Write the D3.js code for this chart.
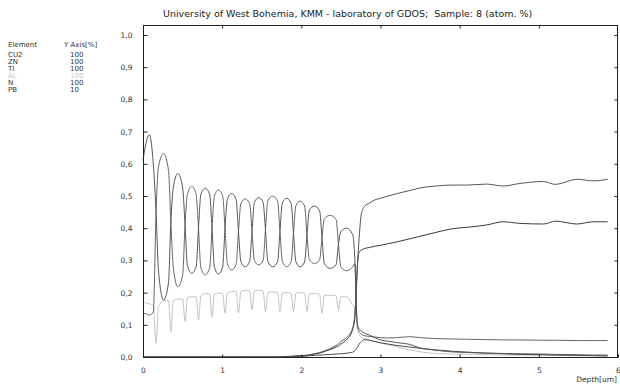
<!DOCTYPE html>
<html><head><meta charset="utf-8">
<script src="https://cdn.jsdelivr.net/npm/d3@7"></script>
<style>
body{margin:0;background:#fff}
svg{display:block;font-family:"DejaVu Sans",Verdana,sans-serif}
</style>
</head><body>
<svg id="chart" width="620" height="387"></svg>
<script>
// ---- data ----
const depth = [
  0, 0.03, 0.08, 0.13,
  0.165, 0.195, 0.26, 0.322,
  0.352, 0.382, 0.44, 0.501,
  0.531, 0.561, 0.616, 0.671,
  0.701, 0.731, 0.786, 0.842,
  0.872, 0.902, 0.954, 1.006,
  1.036, 1.066, 1.121, 1.176,
  1.206, 1.236, 1.291, 1.347,
  1.377, 1.407, 1.462, 1.517,
  1.547, 1.577, 1.638, 1.700,
  1.730, 1.760, 1.815, 1.871,
  1.901, 1.931, 1.986, 2.041,
  2.071, 2.101, 2.166, 2.231,
  2.261, 2.291, 2.365, 2.439,
  2.469, 2.499, 2.573, 2.648,
  2.678, 2.695, 2.71, 2.73, 2.76, 2.80, 2.86, 2.93, 3.0,
  3.1, 3.2, 3.37, 3.5, 3.7, 3.9, 4.1, 4.34, 4.55, 4.76, 5.06, 5.21, 5.48, 5.69, 5.87
];
const cu2 = [
  0.61, 0.655, 0.69, 0.60,
  0.45, 0.27, 0.177, 0.23,
  0.42, 0.525, 0.57, 0.525,
  0.41, 0.285, 0.26, 0.28,
  0.40, 0.505, 0.524, 0.505,
  0.40, 0.28, 0.258, 0.28,
  0.40, 0.49, 0.508, 0.489,
  0.39, 0.297, 0.28, 0.297,
  0.39, 0.48, 0.495, 0.48,
  0.395, 0.297, 0.28, 0.296,
  0.39, 0.478, 0.493, 0.477,
  0.385, 0.296, 0.28, 0.295,
  0.38, 0.456, 0.469, 0.454,
  0.37, 0.29, 0.275, 0.287,
  0.35, 0.39, 0.40, 0.38,
  0.29, 0.16, 0.10, 0.088, 0.08, 0.074, 0.068, 0.06, 0.053,
  0.049, 0.045, 0.039, 0.028, 0.021, 0.016, 0.014, 0.012, 0.011, 0.010, 0.009, 0.008, 0.007, 0.006, 0.006
];
const zn = [
  0.135, 0.135, 0.13, 0.14,
  0.45, 0.59, 0.632, 0.58,
  0.42, 0.28, 0.218, 0.255,
  0.41, 0.505, 0.53, 0.505,
  0.40, 0.277, 0.255, 0.277,
  0.40, 0.50, 0.519, 0.50,
  0.40, 0.29, 0.27, 0.288,
  0.39, 0.476, 0.491, 0.476,
  0.39, 0.30, 0.286, 0.30,
  0.395, 0.485, 0.50, 0.484,
  0.39, 0.297, 0.28, 0.296,
  0.385, 0.47, 0.484, 0.469,
  0.38, 0.303, 0.29, 0.302,
  0.37, 0.43, 0.44, 0.427,
  0.35, 0.28, 0.268, 0.28,
  0.29, 0.15, 0.095, 0.08, 0.07, 0.066, 0.064, 0.062, 0.06,
  0.059, 0.06, 0.063, 0.06, 0.057, 0.056, 0.055, 0.054, 0.053, 0.053, 0.052, 0.052, 0.051, 0.051, 0.051
];
const ti = [
  0, 0, 0, 0,  0, 0, 0, 0,  0, 0, 0, 0,  0, 0, 0, 0,  0, 0, 0, 0,
  0, 0, 0, 0,  0, 0, 0, 0,  0, 0, 0, 0,  0, 0, 0, 0,  0, 0, 0, 0,
  0.001, 0.001, 0.002, 0.002,
  0.003, 0.003, 0.004, 0.005,
  0.006, 0.007, 0.010, 0.014,
  0.016, 0.019, 0.026, 0.036,
  0.040, 0.048, 0.060, 0.090,
  0.14, 0.22, 0.29, 0.37, 0.446, 0.468, 0.478, 0.488, 0.493,
  0.50, 0.507, 0.517, 0.525, 0.531, 0.534, 0.534, 0.537, 0.531, 0.539, 0.545, 0.536, 0.552, 0.547, 0.552
];
const al = [
  0.172, 0.168, 0.165, 0.16,
  0.043, 0.156, 0.175, 0.175,
  0.079, 0.175, 0.18, 0.18,
  0.11, 0.184, 0.187, 0.187,
  0.115, 0.19, 0.197, 0.197,
  0.125, 0.195, 0.198, 0.198,
  0.136, 0.20, 0.203, 0.203,
  0.136, 0.203, 0.207, 0.207,
  0.146, 0.205, 0.207, 0.205,
  0.141, 0.20, 0.202, 0.20,
  0.141, 0.198, 0.20, 0.198,
  0.141, 0.198, 0.20, 0.198,
  0.141, 0.196, 0.197, 0.195,
  0.136, 0.192, 0.192, 0.19,
  0.146, 0.187, 0.187, 0.16,
  0.15, 0.11, 0.08, 0.07, 0.06, 0.056, 0.052, 0.048, 0.044,
  0.038, 0.032, 0.022, 0.016, 0.011, 0.009, 0.008, 0.007, 0.006, 0.006, 0.005, 0.005, 0.004, 0.004, 0.004
];
const n = [
  0, 0, 0, 0,  0, 0, 0, 0,  0, 0, 0, 0,  0, 0, 0, 0,  0, 0, 0, 0,
  0, 0, 0, 0,  0, 0, 0, 0,  0, 0, 0, 0,  0, 0, 0, 0,  0, 0, 0, 0,
  0.001, 0.001, 0.001, 0.002,
  0.002, 0.003, 0.004, 0.004,
  0.005, 0.006, 0.009, 0.012,
  0.014, 0.017, 0.023, 0.031,
  0.034, 0.040, 0.054, 0.085,
  0.13, 0.21, 0.29, 0.325, 0.332, 0.337, 0.34, 0.344, 0.347,
  0.352, 0.357, 0.367, 0.375, 0.387, 0.398, 0.403, 0.41, 0.42, 0.415, 0.413, 0.422, 0.413, 0.42, 0.42
];
const pb = [
  0, 0, 0, 0,  0, 0, 0, 0,  0, 0, 0, 0,  0, 0, 0, 0,  0, 0, 0, 0,
  0, 0, 0, 0,  0, 0, 0, 0,  0, 0, 0, 0,  0, 0, 0, 0,  0, 0, 0, 0,
  0, 0, 0, 0,
  0.001, 0.001, 0.002, 0.002,
  0.003, 0.004, 0.005, 0.006,
  0.006, 0.007, 0.008, 0.009,
  0.010, 0.010, 0.012, 0.015,
  0.02, 0.025, 0.03, 0.04, 0.048, 0.054, 0.052, 0.048, 0.044,
  0.040, 0.036, 0.031, 0.027, 0.022, 0.018, 0.015, 0.012, 0.010, 0.008, 0.007, 0.006, 0.005, 0.004, 0.003
];
const elements = ["CU2", "ZN", "TI", "AL", "N", "PB"];
const axisScale = ["100", "100", "100", "100", "100", "10"];
const seriesValues = [cu2, zn, ti, al, n, pb];
const xTicks = [0, 1, 2, 3, 4, 5, 6];
const yTicks = [0, 0.1, 0.2, 0.3, 0.4, 0.5, 0.6, 0.7, 0.8, 0.9, 1.0];
const yTickLabels = ["0,0","0,1","0,2","0,3","0,4","0,5","0,6","0,7","0,8","0,9","1,0"];
const titleText = "University of West Bohemia, KMM - laboratory of GDOS;  Sample: 8 (atom. %)";
const xTitle = "Depth[um]";

// ---- styling ----
const colors = ["#555", "#666", "#555", "#c4c4c4", "#3a3a3a", "#4a4a4a"];
const legendColors = ["#333", "#333", "#333", "#c4c4c4", "#333", "#333"];
const FONT = '"DejaVu Sans", Verdana, sans-serif';

const svg = d3.select("#chart");
const L = 143, R = 618, T = 25, B = 357;
const x = d3.scaleLinear().domain([0, 6]).range([L, R]);
const y = d3.scaleLinear().domain([0, 1]).range([B, 35]);

// series lines
const line = d3.line()
  .x((d, i) => x(depth[i]))
  .y(d => y(d))
  .curve(d3.curveMonotoneX);
const order = [3, 5, 1, 0, 4, 2];
svg.append("g").selectAll("path").data(order).join("path")
  .attr("d", k => line(seriesValues[k]))
  .attr("fill", "none")
  .attr("stroke", k => colors[k])
  .attr("stroke-width", 1);

// frame
svg.append("rect").attr("x", L + 0.5).attr("y", T + 0.5)
  .attr("width", R - L - 1).attr("height", B - T)
  .attr("fill", "none").attr("stroke", "#222").attr("stroke-width", 1);

// axes
const fmtY = d => yTickLabels[yTicks.indexOf(d)];
const gx = svg.append("g").attr("transform", `translate(0,${B + 0.5})`)
  .call(d3.axisBottom(x).tickValues(xTicks).tickSizeInner(-3).tickSizeOuter(0).tickPadding(10).tickFormat(d3.format("d")));
const gxTop = svg.append("g").attr("transform", `translate(0,${T + 0.5})`)
  .call(d3.axisTop(x).tickValues(xTicks.slice(1, -1)).tickSizeInner(-3).tickSizeOuter(0).tickFormat(""));
const gy = svg.append("g").attr("transform", `translate(${L + 0.5},0)`)
  .call(d3.axisLeft(y).tickValues(yTicks).tickSizeInner(-4).tickSizeOuter(0).tickPadding(11).tickFormat(fmtY));
const gyR = svg.append("g").attr("transform", `translate(${R - 0.5},0)`)
  .call(d3.axisRight(y).tickValues(yTicks.slice(1)).tickSizeInner(-3).tickSizeOuter(0).tickFormat(""));
[gx, gxTop, gy, gyR].forEach(g => {
  g.select(".domain").remove();
  g.selectAll("line").attr("stroke", "#222");
  g.selectAll("text").attr("fill", "#333").attr("font-size", "7.5px").attr("font-family", FONT);
});

// titles
svg.append("text").attr("x", 163).attr("y", 17)
  .attr("font-size", "9.5px").attr("fill", "#222")
  .style("white-space", "pre").text(titleText);
svg.append("text").attr("x", 617).attr("y", 382).attr("text-anchor", "end")
  .attr("font-size", "7.5px").attr("fill", "#333").text(xTitle);

// legend
const lg = svg.append("g").attr("font-size", "7px");
lg.append("text").attr("x", 8).attr("y", 46.5).attr("fill", "#333").text("Element");
lg.append("text").attr("x", 64).attr("y", 46.5).attr("fill", "#333").text("Y Axis[%]");
lg.selectAll("text.nm").data(elements).join("text").attr("class", "nm")
  .attr("x", 8).attr("y", (d, i) => 56.5 + i * 7)
  .attr("fill", (d, i) => legendColors[i]).text(d => d);
lg.selectAll("text.sc").data(axisScale).join("text").attr("class", "sc")
  .attr("x", 70).attr("y", (d, i) => 56.5 + i * 7)
  .attr("fill", (d, i) => legendColors[i]).text(d => d);
</script>
</body></html>
